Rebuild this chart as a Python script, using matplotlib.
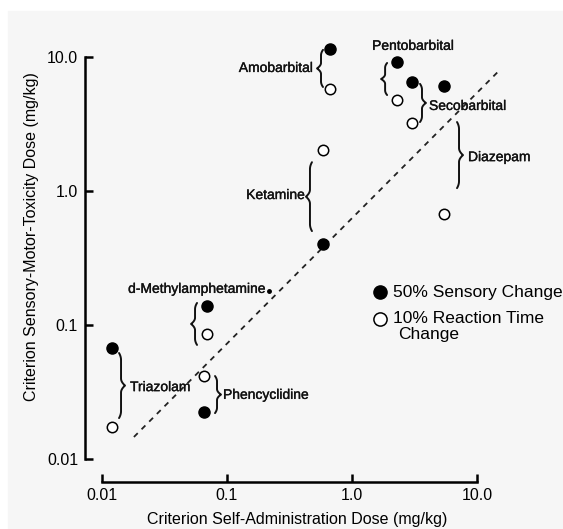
import numpy as np
import matplotlib
matplotlib.use('Agg')
import matplotlib.pyplot as plt
import matplotlib.patheffects as pe
from matplotlib.patches import Rectangle

plt.rcParams['font.family'] = ['Liberation Sans', 'DejaVu Sans']

# values (mg/kg)
drugs = ['Amobarbital', 'Pentobarbital', 'Secobarbital', 'Diazepam',
         'Ketamine', 'd-Methylamphetamine', 'Triazolam', 'Phencyclidine']
self_admin_dose = [0.667, 2.29, 3.02, 5.45, 0.586, 0.0692, 0.012, 0.0655]
sensory_50 = [11.5, 9.18, 6.51, 6.08, 0.402, 0.139, 0.0674, 0.0224]
reaction_10 = [5.77, 4.78, 3.22, 0.674, 2.02, 0.0857, 0.0173, 0.0416]

# label anchors (x, y, ha) and brace (x, y_top, y_bottom, tip side)
label_x = [0.488, 3.08, 4.13, 8.47, 0.421, 0.0575, 0.01675, 0.0929]
label_y = [8.28, 12.1, 4.31, 1.79, 0.933, 0.186, 0.0344, 0.0301]
label_ha = ['right', 'center', 'left', 'left', 'right', 'center', 'left', 'left']
brace_x = [0.565, 1.84, 3.63, 7.18, 0.461, 0.0555, 0.0142, 0.0832]
brace_top = [11.3, 9.02, 6.3, 3.27, 1.64, 0.146, 0.0618, 0.0416]
brace_bottom = [5.97, 5.2, 3.27, 1.05, 0.502, 0.071, 0.0202, 0.022]
brace_tip = [-1, -1, 1, 1, -1, -1, 1, 1]

# unity line and stray point
line_x = [0.018, 15.5]
line_y = [0.0146, 8.14]
dot_x = [0.217]
dot_y = [0.179]

ticks = [0.01, 0.1, 1.0, 10.0]
tick_labels = ['0.01', '0.1', '1.0', '10.0']

W, H = 563, 529
fig = plt.figure(figsize=(W / 100, H / 100), dpi=100, facecolor='white')
fig.patches.append(Rectangle((8 / W, 0), 1, 1 - 11 / H, transform=fig.transFigure,
                             color='#f6f6f6', zorder=-5))

ax_l, ax_r, ax_t, ax_b = 85, 545, 35, 482
ax = fig.add_axes([ax_l / W, 1 - ax_b / H, (ax_r - ax_l) / W, (ax_b - ax_t) / H])
ax.set_facecolor('none')
ax.set_zorder(2)
ax.set_xscale('log')
ax.set_yscale('log')
ax.set_xlim(10 ** -2.136, 10 ** 1.544)
ax.set_ylim(10 ** -2.1716, 10 ** 1.164)

for s in ['top', 'right']:
    ax.spines[s].set_visible(False)
for s in ['left', 'bottom']:
    ax.spines[s].set_linewidth(1.8)
    ax.spines[s].set_bounds(0.01, 10)
ax.set_xticks(ticks)
ax.set_xticklabels(tick_labels)
ax.set_yticks(ticks)
ax.set_yticklabels(tick_labels)
ax.minorticks_off()
ax.tick_params(direction='in', length=6, width=1.8, labelsize=11.5, colors='black')
ax.tick_params(axis='y', pad=5)
ax.tick_params(axis='x', pad=4)

ax.set_xlabel('Criterion Self-Administration Dose (mg/kg)', fontsize=11.5)
ax.set_ylabel('Criterion Sensory-Motor-Toxicity Dose (mg/kg)', fontsize=11.5)
ax.xaxis.set_label_coords(0.461, -0.066)
ax.yaxis.set_label_coords(-0.10, 0.55)

ax.plot(line_x, line_y, color='#222222', linestyle=(0, (3, 3)), linewidth=1.3)
ax.plot(self_admin_dose, sensory_50, 'o', color='black', markersize=8, zorder=3)
ax.plot(self_admin_dose, reaction_10, 'o', markerfacecolor='white', markeredgecolor='black',
        markeredgewidth=1.1, markersize=7.5, zorder=3)
ax.plot(dot_x, dot_y, 'o', color='black', markersize=2.5)

heavy = [pe.withStroke(linewidth=0.25, foreground='#111111')]
for name, lx, ly, ha in zip(drugs, label_x, label_y, label_ha):
    ax.text(lx, ly, name, fontsize=10, ha=ha, va='center', color='#111111', path_effects=heavy)


def draw_brace(ax, x, y_top, y_bot, tip, tip_w=4.0, curl=2.0):
    # build a curly brace in pixel space, then map back to data
    (px, pt), (_, pb) = ax.transData.transform([(x, y_top), (x, y_bot)])
    half = (pt - pb) / 2
    a = min(7.0, 0.3 * half)
    s = np.linspace(0, 1, 40)
    off = np.zeros_like(s)
    d = s * half
    m1 = d < a
    off[m1] = -curl * (1 - d[m1] / a) ** 2
    m3 = d > half - a
    off[m3] = tip_w * ((d[m3] - (half - a)) / a) ** 2
    xs = np.concatenate([px + tip * off, (px + tip * off)[::-1]])
    ys = np.concatenate([pt - d, (pb + d)[::-1]])
    pts = ax.transData.inverted().transform(np.column_stack([xs, ys]))
    ax.plot(pts[:, 0], pts[:, 1], color='#111111', linewidth=1.4, solid_capstyle='round')


for bx, bt, bb, tip in zip(brace_x, brace_top, brace_bottom, brace_tip):
    draw_brace(ax, bx, bt, bb, tip)

# legend drawn by hand to keep the two-line label layout
ax.plot([0.641], [0.425], 'o', color='black', markersize=9.5, transform=ax.transAxes, clip_on=False)
ax.plot([0.641], [0.365], 'o', markerfacecolor='white', markeredgecolor='black', markeredgewidth=1.1,
        markersize=9.5, transform=ax.transAxes, clip_on=False)
ax.text(0.669, 0.425, '50% Sensory Change', fontsize=12.5, va='center', transform=ax.transAxes)
ax.text(0.669, 0.365, '10% Reaction Time', fontsize=12.5, va='center', transform=ax.transAxes)
ax.text(0.680, 0.330, 'Change', fontsize=12.5, va='center', transform=ax.transAxes)

fig.savefig('out.png', dpi=100, facecolor=fig.get_facecolor())
